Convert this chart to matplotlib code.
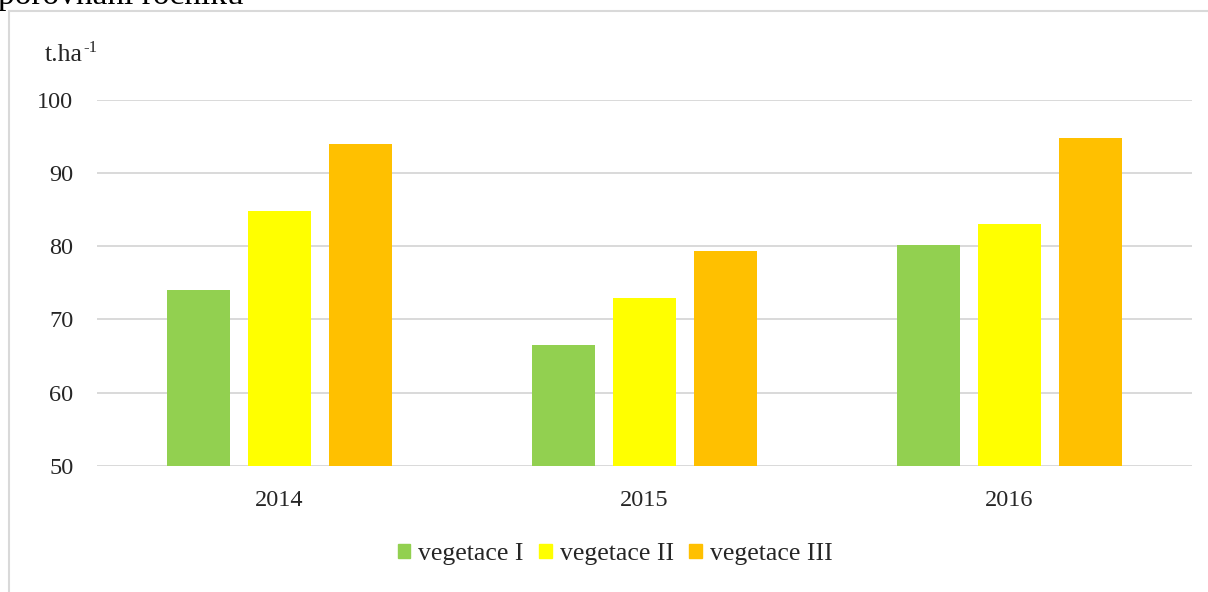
import matplotlib
matplotlib.use("Agg")
import matplotlib.pyplot as plt
import numpy as np
from matplotlib.patches import Rectangle
from matplotlib.lines import Line2D

years = ["2014", "2015", "2016"]
series_names = ["vegetace I", "vegetace II", "vegetace III"]
veg1 = [74.0, 66.5, 80.2]
veg2 = [84.8, 72.9, 83.0]
veg3 = [93.9, 79.3, 94.7]
colors = ["#92d050", "#ffff00", "#ffc000"]
y_ticks = [50, 60, 70, 80, 90, 100]

plt.rcParams['font.family'] = ['Liberation Serif', 'DejaVu Serif']

W, H = 1208, 592
fig = plt.figure(figsize=(W / 100, H / 100), dpi=100)
fig.patch.set_facecolor("white")

txt_color = "#262626"

# axes placement in pixels
left, right, top, bottom = 97, 1192, 99.5, 466
ax = fig.add_axes([left / W, 1 - bottom / H, (right - left) / W, (bottom - top) / H])

x = np.arange(len(years))
bw = 0.175
off = 0.222
for i, (vals, c, name) in enumerate(zip([veg1, veg2, veg3], colors, series_names)):
    ax.bar(x + (i - 1) * off, [v - 50 for v in vals], bottom=50, width=bw, color=c,
           label=name, zorder=3)

ax.set_xlim(-0.5, 2.5)
ax.set_ylim(50, 100)
ax.set_yticks(y_ticks)
ax.set_yticklabels([str(t) for t in y_ticks], fontsize=17.5, color=txt_color)
ax.set_xticks(x)
ax.set_xticklabels(years, fontsize=17.5, color=txt_color)
ax.tick_params(axis="both", length=0)
ax.tick_params(axis="y", pad=17)
ax.tick_params(axis="x", pad=17)
ax.grid(axis="y", color="#d9d9d9", linewidth=1.4, zorder=0)
ax.set_axisbelow(True)
for s in ax.spines.values():
    s.set_visible(False)
ax.set_facecolor("none")

# y-unit label "t.ha" with superscript "-1"
t_main = fig.text(45 / W, 1 - 61 / H, "t.ha", fontsize=18.5, color=txt_color,
                  ha="left", va="baseline")
fig.canvas.draw()
bb = t_main.get_window_extent(renderer=fig.canvas.get_renderer())
fig.text((bb.x1 + 0.5) / W, 1 - 52 / H, "-1", fontsize=12, color=txt_color,
         ha="left", va="baseline")

# outer chart border (left and top)
fig.add_artist(Line2D([8.5 / W, 8.5 / W], [0, 1 - 11 / H], transform=fig.transFigure,
                      color="#d9d9d9", linewidth=1.5))
fig.add_artist(Line2D([8.5 / W, 1], [1 - 11 / H, 1 - 11 / H], transform=fig.transFigure,
                      color="#d9d9d9", linewidth=1.5))

# cut-off document text at top
fig.text(-2 / W, 1 - 4 / H, "porovnání ročníku", fontsize=24, color="black",
         ha="left", va="baseline")

# legend
handles = [Rectangle((0, 0), 1, 1, color=c) for c in colors]
fig.legend(handles, series_names, loc="center", bbox_to_anchor=(615 / W, 1 - 554 / H),
           ncol=3, frameon=False, fontsize=18.5, handlelength=0.5, handleheight=0.5,
           handletextpad=0.3, columnspacing=0.6, labelcolor=txt_color)

fig.savefig("out.png", dpi=100, facecolor="white")
